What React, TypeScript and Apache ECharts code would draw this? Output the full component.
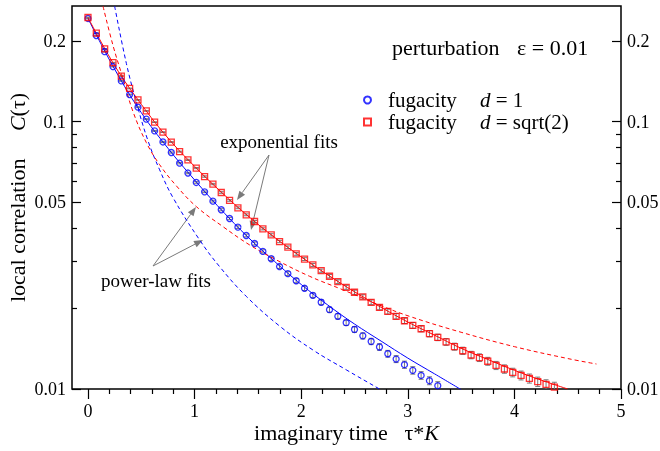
import { useEffect, useRef } from 'react';
import * as echarts from 'echarts';

// imaginary time grid (tau*K)
const tau = [
  0, 0.0781, 0.1563, 0.2344, 0.3125, 0.3906, 0.4688, 0.5469, 0.625, 0.7031,
  0.7813, 0.8594, 0.9375, 1.0156, 1.0938, 1.1719, 1.25, 1.3281, 1.4063, 1.4844,
  1.5625, 1.6406, 1.7188, 1.7969, 1.875, 1.9531, 2.0313, 2.1094, 2.1875, 2.2656,
  2.3438, 2.4219, 2.5, 2.5781, 2.6563, 2.7344, 2.8125, 2.8906, 2.9688, 3.0469,
  3.125, 3.2031, 3.2813, 3.3594, 3.4375, 3.5156, 3.5938, 3.6719, 3.75, 3.8281,
  3.9063, 3.9844, 4.0625, 4.1406, 4.2188, 4.2969, 4.375,
];

// fugacity d = 1 (blue circles)
const blueC = [
  0.243, 0.2097, 0.1826, 0.1605, 0.1419, 0.1262, 0.1132, 0.1021, 0.0923, 0.0839,
  0.0766, 0.0699, 0.0642, 0.0592, 0.0546, 0.0504, 0.0468, 0.0434, 0.0403, 0.0375,
  0.035, 0.0327, 0.0307, 0.0287, 0.027, 0.0254, 0.0238, 0.0224, 0.0211, 0.0198,
  0.0187, 0.0177, 0.0167, 0.0158, 0.01506, 0.01436, 0.01355, 0.01294, 0.01233, 0.01174,
  0.01124, 0.01074, 0.01029,
];
// relative error, percent
const blueErrPct = [
  0.3, 0.3, 0.3, 0.3, 0.3, 0.3, 0.4, 0.4, 0.4, 0.5,
  0.5, 0.6, 0.6, 0.7, 0.7, 0.8, 0.9, 1.0, 1.1, 1.2,
  1.3, 1.4, 1.5, 1.6, 1.7, 1.8, 1.9, 2.0, 2.1, 2.2,
  2.3, 2.4, 2.5, 2.6, 2.7, 2.8, 2.9, 3.0, 3.1, 3.2,
  3.3, 3.4, 3.5,
];

// fugacity d = sqrt(2) (red squares)
const redC = [
  0.245, 0.214, 0.187, 0.166, 0.148, 0.133, 0.1205, 0.1096, 0.0995, 0.0913,
  0.0838, 0.0772, 0.0719, 0.067, 0.0623, 0.0584, 0.0543, 0.0507, 0.0476, 0.0448,
  0.0423, 0.0397, 0.0377, 0.0356, 0.0339, 0.032, 0.0306, 0.0291, 0.0277, 0.0264,
  0.0252, 0.024, 0.023, 0.0221, 0.0211, 0.0202, 0.0195, 0.0187, 0.018, 0.0173,
  0.0168, 0.0161, 0.0156, 0.015, 0.0144, 0.0139, 0.0134, 0.0131, 0.0127, 0.01225,
  0.01188, 0.01153, 0.01124, 0.01095, 0.01065, 0.0104, 0.01017,
];
const redErrPct = [
  0.3, 0.3, 0.3, 0.3, 0.3, 0.3, 0.3, 0.3, 0.3, 0.3,
  0.4, 0.4, 0.5, 0.5, 0.6, 0.6, 0.7, 0.7, 0.8, 0.8,
  0.9, 0.9, 1.0, 1.0, 1.1, 1.2, 1.2, 1.3, 1.4, 1.5,
  1.6, 1.7, 1.8, 1.9, 2.0, 2.1, 2.2, 2.3, 2.4, 2.5,
  2.6, 2.7, 2.8, 2.9, 3.0, 3.1, 3.2, 3.3, 3.4, 3.5,
  3.6, 3.7, 3.8, 3.9, 4.0, 4.1, 4.2,
];

// exponential fits (solid)
const blueExpTau = [0, 0.25, 0.5, 0.75, 1.0, 1.25, 1.5, 1.75, 2.0, 2.25, 2.5, 2.75, 3.0, 3.25, 3.5];
const blueExpC = [0.243, 0.157, 0.108, 0.0795, 0.0605, 0.0468, 0.037, 0.03, 0.0246, 0.0206, 0.0175, 0.0151, 0.01305, 0.0114, 0.00995];
const redExpTau = [0, 0.25, 0.5, 0.75, 1.0, 1.25, 1.5, 1.75, 2.0, 2.25, 2.5, 2.75, 3.0, 3.25, 3.5, 3.75, 4.0, 4.25, 4.5];
const redExpC = [0.245, 0.162, 0.116, 0.0868, 0.068, 0.0545, 0.0444, 0.0369, 0.0312, 0.0267, 0.0231, 0.0202, 0.0178, 0.0159, 0.0142, 0.0129, 0.01175, 0.0108, 0.01];

// power-law fits (dashed)
const bluePowTau = [0.25, 0.36, 0.454, 0.562, 0.672, 0.797, 1.047, 1.234, 1.485, 1.797, 2.109, 2.422, 2.734, 2.85];
const bluePowC = [0.27, 0.165, 0.118, 0.085, 0.066, 0.052, 0.0361, 0.0287, 0.0222, 0.0172, 0.014, 0.0118, 0.01, 0.0094];
const redPowTau = [0.141, 0.234, 0.328, 0.422, 0.547, 0.672, 0.829, 1.016, 1.265, 1.515, 1.766, 2.078, 2.39, 2.734, 3.015, 3.5, 4.0, 4.5, 4.77];
const redPowC = [0.27, 0.193, 0.145, 0.109, 0.0835, 0.069, 0.0575, 0.0481, 0.0405, 0.0346, 0.0304, 0.0264, 0.0235, 0.0206, 0.0187, 0.0163, 0.0144, 0.013, 0.0124];

// axes
const xTicks = [0, 1, 2, 3, 4, 5];
const xMinorTicks = [0.2, 0.4, 0.6, 0.8, 1.2, 1.4, 1.6, 1.8, 2.2, 2.4, 2.6, 2.8, 3.2, 3.4, 3.6, 3.8, 4.2, 4.4, 4.6, 4.8];
const yTicks = [0.01, 0.05, 0.1, 0.2];
const yTickLabels = ['0.01', '0.05', '0.1', '0.2'];
const yMinorTicks = [0.02, 0.03, 0.04, 0.06, 0.07, 0.08, 0.09];
const yMin = 0.01;
const yMax = 0.2705;
const xMin = -0.15;
const xMax = 5;

const F = '"Liberation Serif", "Times New Roman", serif';
const BLUE = '#0000ff';
const RED = '#ff0000';
const GREY = '#7a7a7a';

const L = Math.log10;

function yLabel(v: number) {
  const i = yTicks.findIndex((t) => Math.abs(L(t) - v) < 1e-6);
  return i >= 0 ? yTickLabels[i] : '';
}

function arrow(x1: number, y1: number, x2: number, y2: number) {
  const dx = x2 - x1;
  const dy = y2 - y1;
  const len = Math.sqrt(dx * dx + dy * dy);
  const ux = dx / len;
  const uy = dy / len;
  const hl = 9;
  const hw = 3.5;
  const bx = x2 - ux * hl;
  const by = y2 - uy * hl;
  return [
    { type: 'line', shape: { x1, y1, x2: bx, y2: by }, style: { stroke: GREY, lineWidth: 1 } },
    {
      type: 'polygon',
      shape: { points: [[x2, y2], [bx - uy * hw, by + ux * hw], [bx + uy * hw, by - ux * hw]] },
      style: { fill: GREY },
    },
  ];
}

function errData(c: number[], e: number[]) {
  return c.map((v, i) => [tau[i], L(v * (1 - e[i] / 100)), L(v * (1 + e[i] / 100))]);
}

export default function App() {
  const ref = useRef<HTMLDivElement>(null);
  useEffect(() => {
    if (!ref.current) return;
    const chart = echarts.init(ref.current, undefined, { renderer: 'svg' });
    const tickLine = { color: '#000', width: 1.2 };
    const labelStyle = { fontSize: 18, fontFamily: F, color: '#000' };
    const yBase = {
      type: 'value',
      min: L(yMin),
      max: L(yMax),
      axisLine: { show: false, onZero: false },
      splitLine: { show: false },
    };
    const xBase = {
      type: 'value',
      min: xMin,
      max: xMax,
      position: 'bottom',
      axisLine: { show: false, onZero: false },
      splitLine: { show: false },
    };
    const renderErr = (params: any, api: any) => {
      const x = api.value(0);
      const p1 = api.coord([x, api.value(1)]);
      const p2 = api.coord([x, api.value(2)]);
      const w = 2.5;
      const st = { stroke: GREY, lineWidth: 1 };
      return {
        type: 'group',
        children: [
          { type: 'line', shape: { x1: p1[0], y1: p1[1], x2: p2[0], y2: p2[1] }, style: st },
          { type: 'line', shape: { x1: p1[0] - w, y1: p1[1], x2: p1[0] + w, y2: p1[1] }, style: st },
          { type: 'line', shape: { x1: p2[0] - w, y1: p2[1], x2: p2[0] + w, y2: p2[1] }, style: st },
        ],
      };
    };
    const option: any = {
      animation: false,
      grid: {
        left: 72,
        right: 39,
        top: 6,
        bottom: 62,
        show: true,
        borderColor: '#000',
        borderWidth: 1.5,
        containLabel: false,
        outerBoundsMode: 'none',
      },
      xAxis: [
        {
          ...xBase,
          axisTick: { show: true, inside: false, length: 10, customValues: xTicks, lineStyle: tickLine },
          axisLabel: { customValues: xTicks, formatter: (v: number) => String(v), margin: 13, ...labelStyle },
          name: 'imaginary time   τ*{i|K}',
          nameLocation: 'middle',
          nameGap: 32,
          nameMoveOverlap: false,
          nameTextStyle: {
            fontSize: 22,
            fontFamily: F,
            color: '#000',
            rich: {
              i: { fontSize: 22, fontFamily: F, color: '#000', fontStyle: 'italic' },
            },
          },
        },
        {
          ...xBase,
          axisTick: { show: true, inside: false, length: 5, customValues: xMinorTicks, lineStyle: tickLine },
          axisLabel: { show: false },
        },
      ],
      yAxis: [
        {
          ...yBase,
          position: 'left',
          axisTick: { show: true, inside: true, length: 9, customValues: yTicks.map(L), lineStyle: tickLine },
          axisLabel: { customValues: yTicks.map(L), formatter: yLabel, margin: 6, ...labelStyle },
          name: 'local correlation     {i|C}(τ)',
          nameLocation: 'middle',
          nameGap: 44,
          nameMoveOverlap: false,
          nameTextStyle: {
            fontSize: 22,
            fontFamily: F,
            color: '#000',
            rich: {
              i: { fontSize: 22, fontFamily: F, color: '#000', fontStyle: 'italic' },
            },
          },
        },
        {
          ...yBase,
          position: 'left',
          axisTick: { show: true, inside: true, length: 5, customValues: yMinorTicks.map(L), lineStyle: tickLine },
          axisLabel: { show: false },
        },
        {
          ...yBase,
          position: 'right',
          axisTick: { show: true, inside: true, length: 9, customValues: yTicks.map(L), lineStyle: tickLine },
          axisLabel: { customValues: yTicks.map(L), formatter: yLabel, margin: 6, ...labelStyle },
        },
        {
          ...yBase,
          position: 'right',
          axisTick: { show: true, inside: true, length: 5, customValues: yMinorTicks.map(L), lineStyle: tickLine },
          axisLabel: { show: false },
        },
      ],
      legend: {
        data: ['fugacity d = 1', 'fugacity d = sqrt(2)'],
        orient: 'vertical',
        left: 363,
        top: 89,
        padding: 0,
        itemGap: 0,
        itemWidth: 7,
        itemHeight: 7,
        selectedMode: false,
        formatter: (name: string) =>
          name === 'fugacity d = 1' ? '{a|fugacity}{i|d} = 1' : '{a|fugacity}{i|d} = sqrt(2)',
        textStyle: {
          fontSize: 21,
          fontFamily: F,
          color: '#000',
          lineHeight: 22,
          padding: [0, 0, 0, 12],
          rich: {
            a: { fontSize: 21, fontFamily: F, color: '#000', lineHeight: 22, width: 92 },
            i: { fontSize: 21, fontFamily: F, color: '#000', lineHeight: 22, fontStyle: 'italic' },
          },
        },
      },
      graphic: [
        {
          type: 'text',
          left: 392,
          top: 36,
          style: {
            text: '{a|perturbation}ε = 0.01',
            fontSize: 22,
            fontFamily: F,
            fill: '#000',
            rich: { a: { fontSize: 22, fontFamily: F, fill: '#000', width: 125 } },
          },
        },
        {
          type: 'text',
          x: 279,
          y: 141,
          style: { text: 'exponential fits', fontSize: 19, fontFamily: F, fill: '#000', align: 'center', verticalAlign: 'middle' },
        },
        {
          type: 'text',
          x: 156,
          y: 280,
          style: { text: 'power-law fits', fontSize: 19, fontFamily: F, fill: '#000', align: 'center', verticalAlign: 'middle' },
        },
        ...arrow(269, 155, 237, 200),
        ...arrow(269, 155, 251, 230),
        ...arrow(153, 266, 196, 207),
        ...arrow(153, 266, 203, 240),
      ],
      series: [
        {
          type: 'custom',
          name: 'err1',
          renderItem: renderErr,
          data: errData(blueC, blueErrPct),
          encode: { x: 0, y: [1, 2] },
          clip: true,
          silent: true,
          z: 1,
        },
        {
          type: 'custom',
          name: 'err2',
          renderItem: renderErr,
          data: errData(redC, redErrPct),
          encode: { x: 0, y: [1, 2] },
          clip: true,
          silent: true,
          z: 1,
        },
        {
          type: 'line',
          name: 'exp fit d=1',
          data: blueExpTau.map((t, i) => [t, L(blueExpC[i])]),
          smooth: 0.4,
          showSymbol: false,
          clip: true,
          lineStyle: { color: BLUE, width: 1 },
          z: 2,
        },
        {
          type: 'line',
          name: 'exp fit d=sqrt2',
          data: redExpTau.map((t, i) => [t, L(redExpC[i])]),
          smooth: 0.4,
          showSymbol: false,
          clip: true,
          lineStyle: { color: RED, width: 1 },
          z: 2,
        },
        {
          type: 'line',
          name: 'power fit d=1',
          data: bluePowTau.map((t, i) => [t, L(bluePowC[i])]),
          smooth: 0.4,
          showSymbol: false,
          clip: true,
          lineStyle: { color: BLUE, width: 1, type: [4, 3] },
          z: 2,
        },
        {
          type: 'line',
          name: 'power fit d=sqrt2',
          data: redPowTau.map((t, i) => [t, L(redPowC[i])]),
          smooth: 0.4,
          showSymbol: false,
          clip: true,
          lineStyle: { color: RED, width: 1, type: [4, 3] },
          z: 2,
        },
        {
          type: 'scatter',
          name: 'fugacity d = 1',
          data: blueC.map((v, i) => [tau[i], L(v)]),
          symbol: 'circle',
          symbolSize: 6,
          itemStyle: { color: 'rgba(255,255,255,0)', borderColor: BLUE, borderWidth: 1.3 },
          z: 3,
        },
        {
          type: 'scatter',
          name: 'fugacity d = sqrt(2)',
          data: redC.map((v, i) => [tau[i], L(v)]),
          symbol: 'rect',
          symbolSize: 6,
          itemStyle: { color: 'rgba(255,255,255,0)', borderColor: RED, borderWidth: 1.3 },
          z: 3,
        },
      ],
    };
    chart.setOption(option);
    return () => chart.dispose();
  }, []);
  return <div ref={ref} style={{ position: 'fixed', left: 0, top: 0, width: 660, height: 451 }} />;
}
